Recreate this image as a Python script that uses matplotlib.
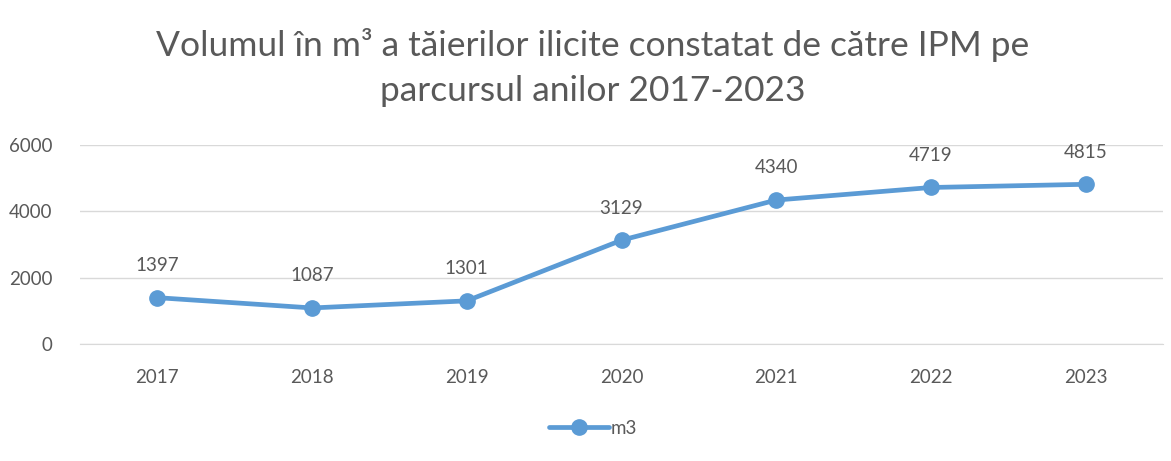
import matplotlib
matplotlib.use("Agg")
import matplotlib.pyplot as plt

years = ["2017", "2018", "2019", "2020", "2021", "2022", "2023"]
values = [1397, 1087, 1301, 3129, 4340, 4719, 4815]
series_name = "m3"
title = "Volumul în m³ a tăierilor ilicite constatat de către IPM pe\nparcursul anilor 2017-2023"
yticks = [0, 2000, 4000, 6000]

plt.rcParams['font.family'] = ['Lato', 'DejaVu Sans']
gray = "#595959"
blue = "#5B9BD5"

fig = plt.figure(figsize=(11.71, 4.61), dpi=100)
ax = fig.add_axes([80/1171, 1-344/461, (1163-80)/1171, (344-145)/461])
x = list(range(len(years)))
ax.plot(x, values, color=blue, lw=3.4, marker='o', ms=11, label=series_name, solid_capstyle='round')
for xi, v in zip(x, values):
    ax.annotate(str(v), (xi, v), xytext=(0, 17), textcoords='offset points',
                ha='center', va='bottom', fontsize=13.5, color=gray)
ax.set_xlim(-0.5, len(years)-0.5)
ax.set_ylim(0, 6000)
ax.set_yticks(yticks)
ax.set_xticks(x)
ax.set_xticklabels(years)
ax.tick_params(axis='both', length=0, labelsize=13.5, labelcolor=gray)
ax.tick_params(axis='x', pad=18)
ax.tick_params(axis='y', pad=20)
ax.grid(axis='y', color='#D9D9D9', lw=1)
ax.set_axisbelow(True)
for s in ['top', 'right', 'left']:
    ax.spines[s].set_visible(False)
ax.spines['bottom'].set_color('#D9D9D9')
fig.suptitle(title, fontsize=25.5, color=gray, x=593/1171, y=1-28/461, va='top', linespacing=1.5)
fig.legend(loc='center', bbox_to_anchor=(593/1171, 1-428/461), frameon=False,
           fontsize=13.5, labelcolor=gray, handlelength=3.2, handletextpad=0.1)
fig.savefig("out.png", dpi=100, facecolor='white')
